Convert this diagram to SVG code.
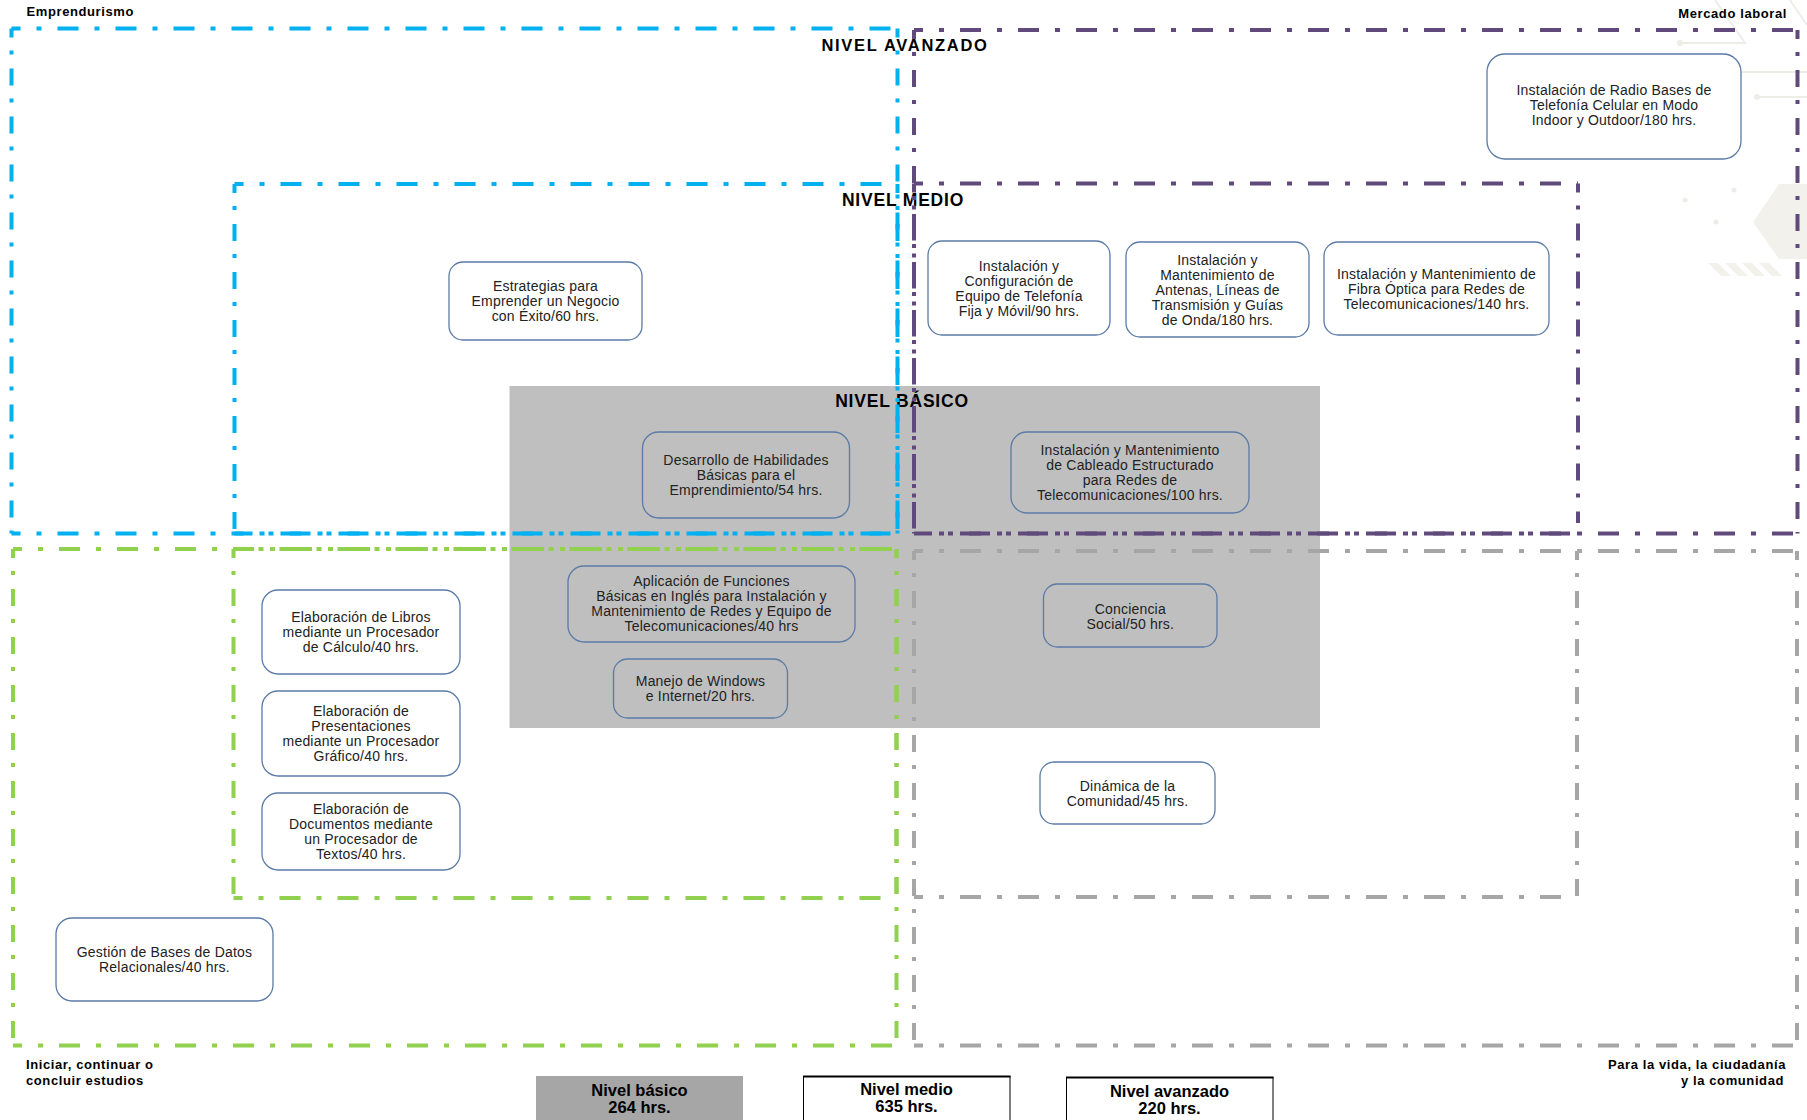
<svg xmlns="http://www.w3.org/2000/svg" width="1807" height="1120" viewBox="0 0 1807 1120">
<style>
.f{fill:none;stroke-width:4}
.bl{stroke:#00B0F0}.pu{stroke:#604A7B}.gr{stroke:#92D050}.gy{stroke:#A6A6A6}
.h{stroke-dasharray:21 16 5 16;stroke-dashoffset:12}
.v{stroke-dasharray:17 13 4 14;stroke-dashoffset:8}
.node rect{fill:#fff;stroke:#5B7BA6;stroke-width:1.3}
.node.in rect{fill:none}
.node text{font-family:"Liberation Sans",Arial,sans-serif;font-size:14px;fill:#222;text-anchor:middle;letter-spacing:0.2px}
.ttl{font-family:"Liberation Sans",Arial,sans-serif;font-weight:bold;fill:#000;text-anchor:middle}
.lbl{font-family:"Liberation Sans",Arial,sans-serif;font-weight:bold;font-size:13px;letter-spacing:0.6px;fill:#000}
.leg text{font-family:"Liberation Sans",Arial,sans-serif;font-weight:bold;font-size:16.5px;fill:#000;text-anchor:middle}
.deco{stroke:#EDEDE8;stroke-width:2;fill:none}
.dd{fill:#EDEDE8}
</style>
<rect width="1807" height="1120" fill="#fff"/>
<g id="decor">
<path class="deco" d="M1680 43H1745L1715 0M1712 72H1807M1757 97H1807M1790 0L1807 25"/>
<circle class="dd" cx="1680" cy="43" r="3"/>
<circle class="dd" cx="1712" cy="72" r="3"/>
<circle class="dd" cx="1757" cy="97" r="3"/>
<polygon points="1753,222 1779,184 1807,184 1807,259 1779,259" fill="#F2F1EC"/>
<g fill="#F2F1EC">
<polygon points="1708,263 1718,263 1731,276 1721,276"/>
<polygon points="1725,263 1735,263 1748,276 1738,276"/>
<polygon points="1742,263 1752,263 1765,276 1755,276"/>
<polygon points="1759,263 1769,263 1782,276 1772,276"/>
</g>
<circle class="dd" cx="1685" cy="200" r="2.5"/>
<circle class="dd" cx="1734" cy="190" r="2.5"/>
<circle class="dd" cx="1716" cy="222" r="2.5"/>
</g>
<rect id="basic-area" x="509.5" y="386" width="810.5" height="342" fill="#BFBFBF"/>
<g id="titles">
<text class="ttl" x="905" y="51" font-size="16.5" letter-spacing="1.7">NIVEL AVANZADO</text>
<text class="ttl" x="903" y="206" font-size="17.5" letter-spacing="0.8">NIVEL MEDIO</text>
<text class="ttl" x="902" y="407" font-size="17.5" letter-spacing="0.8">NIVEL BÁSICO</text>
</g>
<g id="frames">
<g id="frame-emprendurismo-avanzado" class="f bl">
<path class="h" d="M11.5 28.5H897.5M11.5 533.5H897.5"/>
<path class="v" d="M11.5 28.5V533.5M897.5 28.5V533.5"/>
</g>
<g id="frame-emprendurismo-medio" class="f bl">
<path class="h" d="M234.5 184H897.5M234.5 533.5H897.5"/>
<path class="v" d="M234.5 184V533.5M897.5 184V533.5"/>
</g>
<g id="frame-mercado-avanzado" class="f pu">
<path class="h" d="M914 30H1797.5M914 533.5H1797.5"/>
<path class="v" d="M914 30V533.5M1797.5 30V533.5"/>
</g>
<g id="frame-mercado-medio" class="f pu">
<path class="h" d="M914 183.5H1578M923 533.5H1578"/>
<path class="v" d="M914 183.5V533.5M1578 183.5V523"/>
</g>
<g id="frame-estudios-avanzado" class="f gr">
<path class="h" d="M13 549H896.5M13 1045.5H896.5"/>
<path class="v" d="M13 549V1045.5M896.5 549V1045.5"/>
</g>
<g id="frame-estudios-medio" class="f gr">
<path class="h" d="M233.5 549H896.5M233.5 898H896.5"/>
<path class="v" d="M233.5 549V898M896.5 549V898"/>
</g>
<g id="frame-vida-avanzado" class="f gy">
<path class="h" d="M914 551H1797M914 1045.5H1797"/>
<path class="v" d="M914 551V1045.5M1797 551V1045.5"/>
</g>
<g id="frame-vida-medio" class="f gy">
<path class="h" d="M914 551H1577M914 897H1577"/>
<path class="v" d="M914 551V897M1577 551V897"/>
</g>
</g>
<g id="nodes">
<g id="n-radio-bases" class="node">
<rect x="1487" y="54" width="254" height="105" rx="18"/>
<text x="1614" y="94.5">Instalación de Radio Bases de</text>
<text x="1614" y="109.5">Telefonía Celular en Modo</text>
<text x="1614" y="124.5">Indoor y Outdoor/180 hrs.</text>
</g>
<g id="n-estrategias" class="node">
<rect x="449" y="262" width="193" height="78" rx="14"/>
<text x="545.5" y="291">Estrategias para</text>
<text x="545.5" y="306">Emprender un Negocio</text>
<text x="545.5" y="321">con Éxito/60 hrs.</text>
</g>
<g id="n-telefonia" class="node">
<rect x="928" y="241" width="182" height="94" rx="14"/>
<text x="1019" y="270.5">Instalación y</text>
<text x="1019" y="285.5">Configuración de</text>
<text x="1019" y="300.5">Equipo de Telefonía</text>
<text x="1019" y="315.5">Fija y Móvil/90 hrs.</text>
</g>
<g id="n-antenas" class="node">
<rect x="1126" y="242" width="183" height="95" rx="14"/>
<text x="1217.5" y="264.5">Instalación y</text>
<text x="1217.5" y="279.5">Mantenimiento de</text>
<text x="1217.5" y="294.5">Antenas, Líneas de</text>
<text x="1217.5" y="309.5">Transmisión y Guías</text>
<text x="1217.5" y="324.5">de Onda/180 hrs.</text>
</g>
<g id="n-fibra" class="node">
<rect x="1324" y="242" width="225" height="93" rx="14"/>
<text x="1436.5" y="278.5">Instalación y Mantenimiento de</text>
<text x="1436.5" y="293.5">Fibra Óptica para Redes de</text>
<text x="1436.5" y="308.5">Telecomunicaciones/140 hrs.</text>
</g>
<g id="n-habilidades" class="node in">
<rect x="642.5" y="432" width="207" height="86" rx="16"/>
<text x="746" y="465">Desarrollo de Habilidades</text>
<text x="746" y="480">Básicas para el</text>
<text x="746" y="495">Emprendimiento/54 hrs.</text>
</g>
<g id="n-cableado" class="node in">
<rect x="1011" y="432" width="238" height="81" rx="16"/>
<text x="1130" y="455">Instalación y Mantenimiento</text>
<text x="1130" y="470">de Cableado Estructurado</text>
<text x="1130" y="485">para Redes de</text>
<text x="1130" y="500">Telecomunicaciones/100 hrs.</text>
</g>
<g id="n-ingles" class="node in">
<rect x="568" y="566" width="287" height="76" rx="16"/>
<text x="711.5" y="586">Aplicación de Funciones</text>
<text x="711.5" y="601">Básicas en Inglés para Instalación y</text>
<text x="711.5" y="616">Mantenimiento de Redes y Equipo de</text>
<text x="711.5" y="631">Telecomunicaciones/40 hrs</text>
</g>
<g id="n-conciencia" class="node in">
<rect x="1043.5" y="584" width="173.5" height="63" rx="14"/>
<text x="1130.3" y="613.5">Conciencia</text>
<text x="1130.3" y="628.5">Social/50 hrs.</text>
</g>
<g id="n-windows" class="node in">
<rect x="613.5" y="659" width="174" height="59" rx="14"/>
<text x="700.5" y="686">Manejo de Windows</text>
<text x="700.5" y="701">e Internet/20 hrs.</text>
</g>
<g id="n-libros" class="node">
<rect x="262" y="590" width="198" height="84" rx="16"/>
<text x="361" y="622">Elaboración de Libros</text>
<text x="361" y="637">mediante un Procesador</text>
<text x="361" y="652">de Cálculo/40 hrs.</text>
</g>
<g id="n-presentaciones" class="node">
<rect x="262" y="691" width="198" height="85" rx="16"/>
<text x="361" y="716">Elaboración de</text>
<text x="361" y="731">Presentaciones</text>
<text x="361" y="746">mediante un Procesador</text>
<text x="361" y="761">Gráfico/40 hrs.</text>
</g>
<g id="n-documentos" class="node">
<rect x="262" y="793" width="198" height="77" rx="16"/>
<text x="361" y="814">Elaboración de</text>
<text x="361" y="829">Documentos mediante</text>
<text x="361" y="844">un Procesador de</text>
<text x="361" y="859">Textos/40 hrs.</text>
</g>
<g id="n-comunidad" class="node">
<rect x="1040" y="762" width="175" height="62" rx="14"/>
<text x="1127.5" y="790.5">Dinámica de la</text>
<text x="1127.5" y="805.5">Comunidad/45 hrs.</text>
</g>
<g id="n-bases-datos" class="node">
<rect x="56" y="918" width="217" height="83" rx="16"/>
<text x="164.5" y="957">Gestión de Bases de Datos</text>
<text x="164.5" y="972">Relacionales/40 hrs.</text>
</g>
</g>
<g id="labels">
<text class="lbl" x="26.5" y="16">Emprendurismo</text>
<text class="lbl" x="1787" y="18" text-anchor="end">Mercado laboral</text>
<text class="lbl" x="26" y="1069">Iniciar, continuar o</text>
<text class="lbl" x="26" y="1085">concluir estudios</text>
<text class="lbl" x="1786" y="1069" text-anchor="end">Para la vida, la ciudadanía</text>
<text class="lbl" x="1784" y="1085" text-anchor="end">y la comunidad</text>
</g>
<g id="legend" class="leg">
<g id="leg-basico">
<rect x="536" y="1076" width="207" height="50" fill="#A6A6A6"/>
<text x="639.5" y="1096">Nivel básico</text>
<text x="639.5" y="1113">264 hrs.</text>
</g>
<g id="leg-medio">
<rect x="803.5" y="1076.5" width="206.5" height="50" fill="#fff" stroke="#000" stroke-width="1"/>
<path d="M803 1076.5H1010.5" stroke="#000" stroke-width="2"/>
<text x="906.5" y="1095">Nivel medio</text>
<text x="906.5" y="1112">635 hrs.</text>
</g>
<g id="leg-avanzado">
<rect x="1066.5" y="1077.5" width="206.5" height="50" fill="#fff" stroke="#000" stroke-width="1"/>
<path d="M1066 1077.5H1273.5" stroke="#000" stroke-width="2"/>
<text x="1169.5" y="1097">Nivel avanzado</text>
<text x="1169.5" y="1114">220 hrs.</text>
</g>
</g>
</svg>
